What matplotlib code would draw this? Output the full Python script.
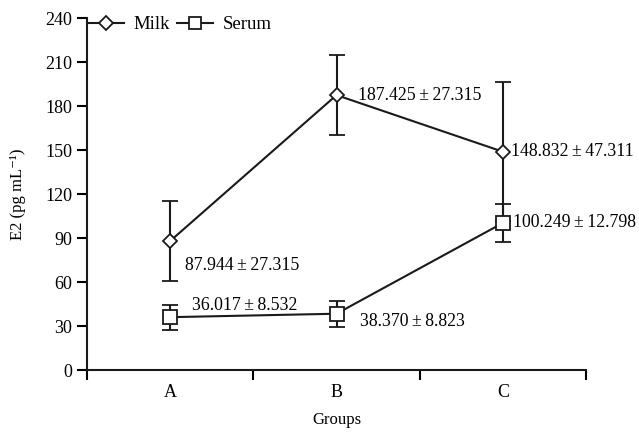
import numpy as np
import matplotlib.pyplot as plt
from matplotlib.lines import Line2D

groups = ["A", "B", "C"]
milk = [87.944, 187.425, 148.832]
milk_sd = [27.315, 27.315, 47.311]
serum = [36.017, 38.370, 100.249]
serum_sd = [8.532, 8.823, 12.798]
yticks = [0, 30, 60, 90, 120, 150, 180, 210, 240]

plt.rcParams['font.family'] = ['Liberation Serif', 'DejaVu Serif']

fig = plt.figure(figsize=(6.39, 4.36), dpi=100)
ax = fig.add_axes([87/639, 1 - 370/436, (586-87)/639, (370-18)/436])

x = np.arange(len(groups)) + 0.5
ax.errorbar(x, milk, yerr=milk_sd, color='#1a1a1a', lw=1.5, marker='D', ms=7,
            mfc='white', mec='#1a1a1a', mew=1.3, capsize=6, capthick=1.5,
            elinewidth=1.5)
ax.errorbar(x, serum, yerr=serum_sd, color='#1a1a1a', lw=1.5, marker='s', ms=10,
            mfc='white', mec='#1a1a1a', mew=1.3, capsize=6, capthick=1.5,
            elinewidth=1.5)

# value labels, offsets in pixels
milk_off = [(15, -24), (22, 0), (8, 0)]
serum_off = [(22, 12), (23, -8), (10, 0)]
for xi, v, s, off in zip(x, milk, milk_sd, milk_off):
    ax.annotate(f"{v:.3f}\u2009\u00b1\u2009{s:.3f}", (xi, v), xytext=off,
                textcoords='offset pixels', fontsize=12.8, va='center', ha='left')
for xi, v, s, off in zip(x, serum, serum_sd, serum_off):
    ax.annotate(f"{v:.3f}\u2009\u00b1\u2009{s:.3f}", (xi, v), xytext=off,
                textcoords='offset pixels', fontsize=12.8, va='center', ha='left')

ax.set_xlim(0, 3)
ax.set_ylim(0, 240)
ax.set_yticks(yticks)
ax.set_xticks([0, 1, 2, 3])
ax.set_xticklabels([])
ax.set_xticks(x, minor=True)
ax.set_xticklabels(groups, minor=True)
ax.tick_params(axis='x', which='minor', length=0, pad=10, labelsize=13)
ax.tick_params(axis='x', which='major', length=7, width=1.5, direction='out')
ax.tick_params(axis='y', length=7, width=1.5, direction='out', labelsize=13)
for sp in ['top', 'right']:
    ax.spines[sp].set_visible(False)
for sp in ['left', 'bottom']:
    ax.spines[sp].set_linewidth(1.5)
    ax.spines[sp].set_color('#1a1a1a')

ax.set_xlabel("Groups", fontsize=12)
ax.xaxis.set_label_coords(0.5, -0.12)
ax.set_ylabel("E2 (pg mL\u207b\u00b9)", fontsize=12, labelpad=14)

handles = [
    Line2D([], [], color='#1a1a1a', lw=1.5, marker='D', ms=7, mfc='white',
           mec='#1a1a1a', mew=1.3),
    Line2D([], [], color='#1a1a1a', lw=1.5, marker='s', ms=9, mfc='white',
           mec='#1a1a1a', mew=1.3),
]
ax.legend(handles, ["Milk", "Serum"], loc='upper left', ncol=2, frameon=False,
          fontsize=13.5, handlelength=1.9, columnspacing=0.4, handletextpad=0.5,
          borderaxespad=0.0, borderpad=0.0, bbox_to_anchor=(0.003, 1.005))

fig.savefig("out.png", dpi=100)
